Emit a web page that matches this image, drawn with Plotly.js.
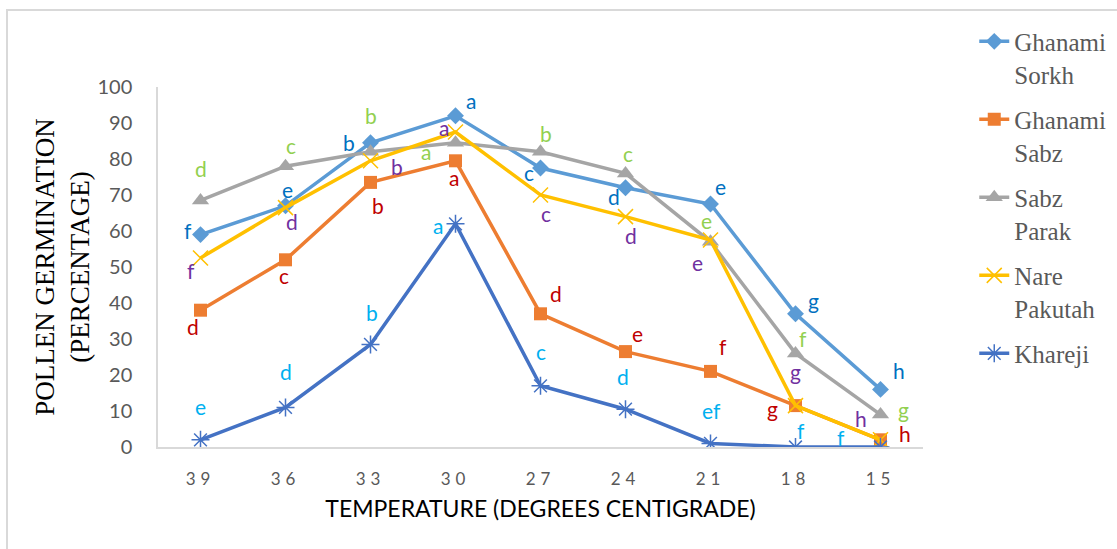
<!DOCTYPE html>
<html>
<head>
<meta charset="utf-8">
<script src="https://cdn.plot.ly/plotly-3.0.1.min.js"></script>
<style>
  html, body { margin: 0; padding: 0; background: #fff; overflow: hidden; }
  #wrap { position: relative; width: 1117px; height: 549px; }
  #chart { width: 1117px; height: 549px; }
  #frame { position: absolute; left: 6px; top: 9px; width: 1200px; height: 700px;
           border-left: 2px solid #d9d9d9; border-top: 2px solid #d9d9d9; pointer-events: none; }
  .xtick text { letter-spacing: 5px; }
</style>
</head>
<body>
<div id="wrap">
  <div id="chart"></div>
  <div id="frame"></div>
</div>
<script>
// ---- data ----
const temperatures = ['39', '36', '33', '30', '27', '24', '21', '18', '15'];

const ghanamiSorkh = [59, 67, 84.5, 92, 77.5, 72, 67.5, 37, 16];
const ghanamiSabz  = [38, 52, 73.5, 79.5, 37, 26.5, 21, 11.5, 2];
const sabzParak    = [68.5, 78, 82, 84.5, 82, 76, 57, 26, 9];
const narePakutah  = [52.5, 66.5, 79.5, 87.5, 70, 64, 57.5, 11.5, 2];
const khareji      = [2, 11, 28.5, 62, 17, 10.5, 1, 0, 0];

const lettersSorkh  = ['f', 'e', 'b', 'a', 'c', 'd', 'e', 'g', 'h'];
const lettersSabz   = ['d', 'c', 'b', 'a', 'd', 'e', 'f', 'g', 'h'];
const lettersParak  = ['d', 'c', 'b', 'a', 'b', 'c', 'e', 'f', 'g'];
const lettersNare   = ['f', 'd', 'b', 'a', 'c', 'd', 'e', 'g', 'h'];
const lettersKhareji = ['e', 'd', 'b', 'a', 'c', 'd', 'ef', 'f', 'f'];

// ---- styling / label placement (pixel offsets from each point) ----
const series = [
  { name: 'Ghanami<br>Sorkh', y: ghanamiSorkh, letters: lettersSorkh,
    color: '#5B9BD5', symbol: 'diamond', size: 13, open: false, letterColor: '#0070C0',
    off: [[-13,-4],[2,-16],[-22,0],[15,-15],[-12,4],[-12,9],[10,-18],[18,-13],[18,-19]] },
  { name: 'Ghanami<br>Sabz', y: ghanamiSabz, letters: lettersSabz,
    color: '#ED7D31', symbol: 'square', size: 13, open: false, letterColor: '#C00000',
    off: [[-8,16],[-2,16],[7,23],[-2,17],[15,-20],[12,-18],[12,-25],[-23,3],[24,-6]] },
  { name: 'Sabz<br>Parak', y: sabzParak, letters: lettersParak,
    color: '#A5A5A5', symbol: 'triangle-up', size: 15, open: false, letterColor: '#92D050',
    off: [[0,-32],[5,-21],[0,-36],[-30,9],[5,-18],[2,-20],[-4,-21],[7,-15],[23,-5]] },
  { name: 'Nare<br>Pakutah', y: narePakutah, letters: lettersNare,
    color: '#FFC000', symbol: 'x-thin-open', size: 15, open: true, letterColor: '#7030A0',
    off: [[-10,12],[6,14],[26,6],[-12,-5],[5,18],[5,19],[-13,22],[0,-34],[-20,-21]] },
  { name: 'Khareji', y: khareji, letters: lettersKhareji,
    color: '#4472C4', symbol: 'asterisk-open', size: 15, open: true, letterColor: '#00B0F0',
    off: [[0,-33],[0,-36],[1,-32],[-18,2],[0,-34],[-3,-33],[1,-33],[5,-17],[-40,-10]] }
];

const traces = series.map((s, k) => ({
  type: 'scatter',
  mode: 'lines+markers',
  name: s.name,
  legendgroup: 'g' + k,
  x: temperatures,
  y: s.y,
  line: { color: s.color, width: 3.5 },
  marker: {
    symbol: s.symbol, size: s.size, color: s.color,
    line: s.open ? { width: 1.5, color: s.color } : { width: 0 }
  },
  hoverinfo: 'x+y+name'
}));

// annotation x uses the category serial number (index) on the category axis
const annotations = [];
series.forEach(s => {
  s.letters.forEach((t, i) => {
    annotations.push({
      x: i, y: s.y[i], xref: 'x', yref: 'y',
      text: t, showarrow: false,
      xshift: s.off[i][0], yshift: -s.off[i][1],
      font: { family: 'Lato, sans-serif', size: 21, color: s.letterColor }
    });
  });
});

const layout = {
  width: 1117, height: 549,
  paper_bgcolor: '#fff', plot_bgcolor: '#fff',
  margin: { l: 158, r: 194, t: 87, b: 102, autoexpand: false },
  showlegend: true,
  legend: {
    x: 1.067, xanchor: 'left', y: 1.19, yanchor: 'top',
    maxheight: 549,
    font: { family: '"Liberation Serif", serif', size: 25, color: '#595959' },
    valign: 'top', tracegroupgap: 10, bgcolor: 'rgba(0,0,0,0)'
  },
  xaxis: {
    type: 'category', range: [-0.5, 8.5],
    showgrid: false, zeroline: false,
    showline: true, linecolor: '#d9d9d9', linewidth: 1.5,
    ticks: '', tickfont: { family: 'Lato, sans-serif', size: 17, color: '#595959' },
    ticklabelstandoff: 16,
    title: { text: 'TEMPERATURE (DEGREES CENTIGRADE)', standoff: 13,
             font: { family: 'Lato, sans-serif', size: 23, color: '#000' } }
  },
  yaxis: {
    range: [0, 100], dtick: 10,
    showgrid: false, zeroline: false,
    showline: true, linecolor: '#d9d9d9', linewidth: 1.5,
    ticks: '', tickfont: { family: 'Lato, sans-serif', size: 20, color: '#595959' },
    ticklabelstandoff: 20,
    title: { text: 'POLLEN GERMINATION<br>(PERCENTAGE)', standoff: 0,
             font: { family: '"Liberation Serif", serif', size: 27, color: '#000' } }
  },
  annotations: annotations
};

Plotly.newPlot('chart', traces, layout, { displayModeBar: false });
</script>
</body>
</html>
